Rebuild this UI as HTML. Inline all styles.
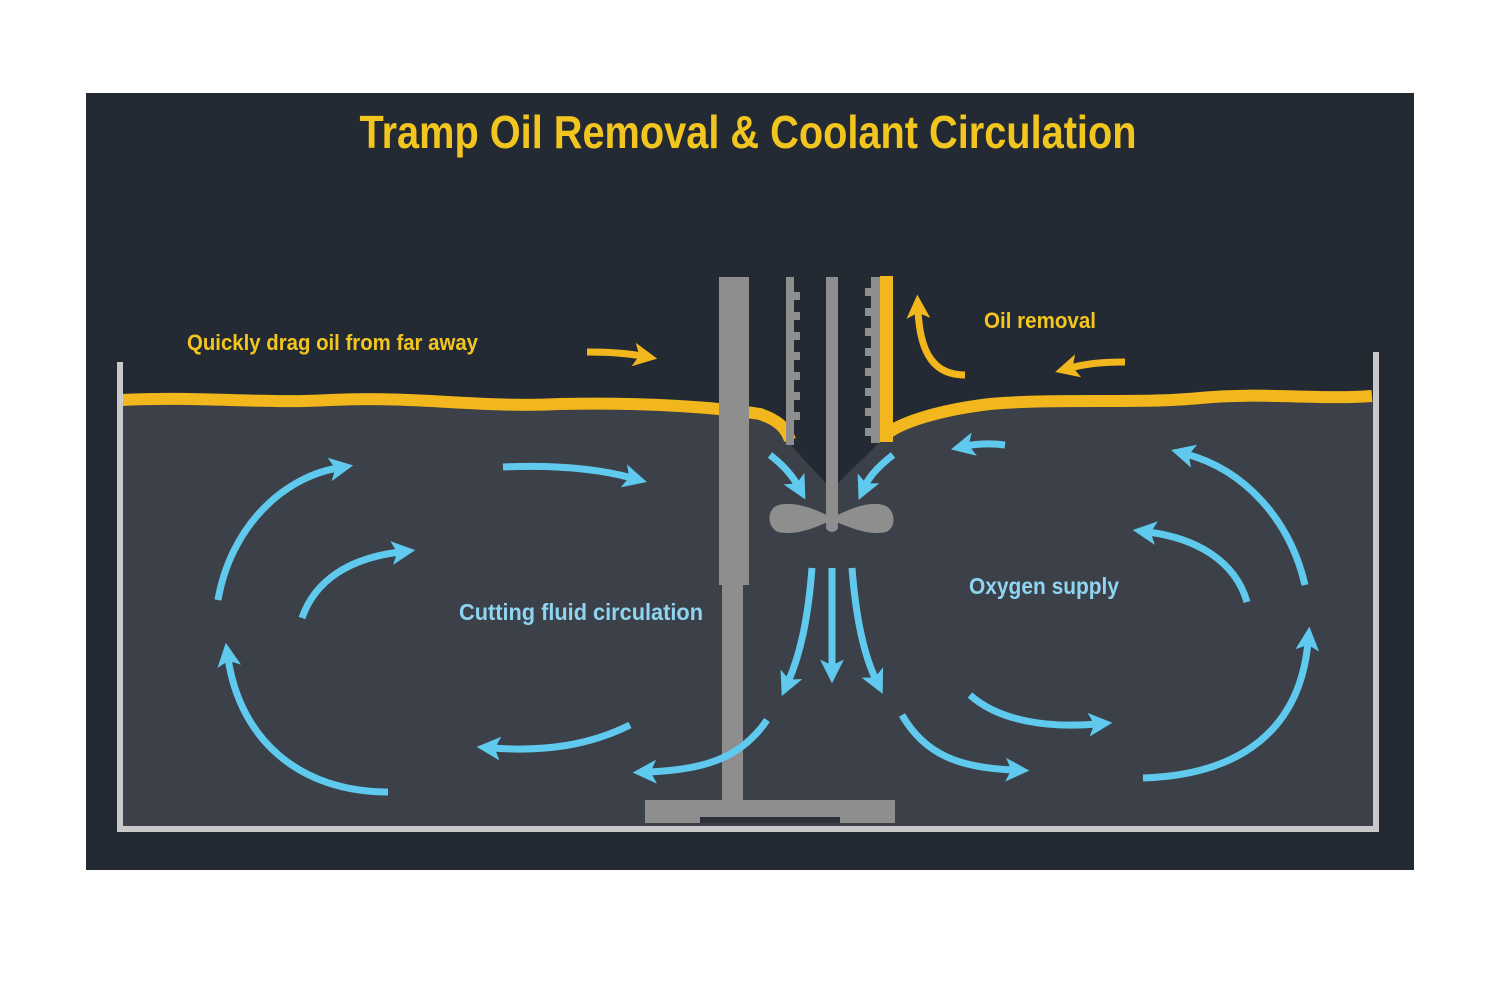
<!DOCTYPE html>
<html><head><meta charset="utf-8"><style>
html,body{margin:0;padding:0;background:#fff;}
svg{display:block;}
text{font-family:"Liberation Sans",sans-serif;font-weight:bold;}
</style></head><body>
<svg width="1500" height="1000" viewBox="0 0 1500 1000" xmlns="http://www.w3.org/2000/svg">
<defs>
<marker id="ab" markerWidth="3.4" markerHeight="3.4" refX="1.2" refY="1.7" orient="auto" markerUnits="strokeWidth">
<path d="M0,0 L3.4,1.7 L0,3.4 L0.8,1.7 Z" fill="#5fc9ee"/></marker>
<marker id="ay" markerWidth="3.4" markerHeight="3.4" refX="1.2" refY="1.7" orient="auto" markerUnits="strokeWidth">
<path d="M0,0 L3.4,1.7 L0,3.4 L0.8,1.7 Z" fill="#f2b71c"/></marker>
</defs>
<rect x="86" y="93" width="1328" height="777" fill="#242a33"/>
<path d="M122,406 C200,402 260,410 330,406 C420,402 480,414 560,410 C650,408 720,414 760,420 C780,428 788,438 792,446 C805,462 822,478 832,490 C842,478 860,462 876,446 C890,432 930,418 990,410 C1060,404 1140,410 1200,404 C1260,398 1320,406 1374,402 L1374,828 L122,828 Z" fill="#3c4149"/>
<path d="M122,400 C200,396 260,404 330,400 C420,396 480,408 560,404 C650,402 720,408 760,414 C778,420 786,428 790,440" fill="none" stroke="#f2b71c" stroke-width="12"/>
<path d="M884,436 C900,422 940,410 990,404 C1060,398 1140,404 1200,398 C1260,392 1320,400 1372,396" fill="none" stroke="#f2b71c" stroke-width="12"/>
<path d="M120,362 L120,829 L1376,829 L1376,352" fill="none" stroke="#c9c9c9" stroke-width="6"/>
<rect x="719" y="277" width="30" height="308" fill="#8e8e8e"/>
<rect x="722" y="585" width="21" height="220" fill="#8e8e8e"/>
<rect x="645" y="800" width="250" height="23" fill="#8e8e8e"/>
<rect x="700" y="817" width="140" height="6" fill="#2c3038"/>
<rect x="786" y="277" width="8" height="168" fill="#8e8e8e"/>
<g fill="#8e8e8e"><rect x="794" y="292" width="6" height="8"/><rect x="794" y="312" width="6" height="8"/><rect x="794" y="332" width="6" height="8"/><rect x="794" y="352" width="6" height="8"/><rect x="794" y="372" width="6" height="8"/><rect x="794" y="392" width="6" height="8"/><rect x="794" y="412" width="6" height="8"/></g>
<rect x="871" y="277" width="9" height="166" fill="#8e8e8e"/>
<g fill="#8e8e8e"><rect x="865" y="288" width="6" height="8"/><rect x="865" y="308" width="6" height="8"/><rect x="865" y="328" width="6" height="8"/><rect x="865" y="348" width="6" height="8"/><rect x="865" y="368" width="6" height="8"/><rect x="865" y="388" width="6" height="8"/><rect x="865" y="408" width="6" height="8"/><rect x="865" y="428" width="6" height="8"/></g>
<rect x="880" y="276" width="13" height="166" fill="#f2b71c"/>
<rect x="826" y="277" width="12" height="248" fill="#8e8e8e"/>
<path d="M832,518 C815,508 790,500 776,506 C766,512 768,528 778,532 C795,536 815,528 832,520 C850,528 870,536 886,532 C896,528 896,512 886,506 C872,500 850,508 832,518 Z" fill="#8e8e8e"/>
<ellipse cx="832" cy="527" rx="6" ry="5" fill="#8e8e8e"/>
<g fill="none" stroke="#5fc9ee" stroke-width="7" marker-end="url(#ab)">
<path d="M218,600 C230,530 280,478 338,468"/>
<path d="M302,618 C315,580 350,558 400,552"/>
<path d="M503,467 C550,465 595,468 632,478"/>
<path d="M388,792 C300,792 240,740 228,658"/>
<path d="M630,725 C590,745 545,752 492,748"/>
<path d="M767,720 C740,760 700,770 648,772"/>
<path d="M770,455 C783,465 792,475 798,486"/>
<path d="M893,455 C880,465 870,475 865,486"/>
<path d="M1005,445 C990,443 975,444 966,446"/>
<path d="M812,568 C808,620 800,655 788,682"/>
<path d="M832,568 L832,668"/>
<path d="M852,568 C856,620 864,655 876,680"/>
<path d="M902,715 C925,755 960,768 1014,770"/>
<path d="M970,695 C1000,722 1050,728 1097,724"/>
<path d="M1143,778 C1240,775 1300,730 1308,642"/>
<path d="M1305,585 C1290,520 1245,470 1186,454"/>
<path d="M1247,602 C1235,560 1195,538 1148,532"/>
</g>
<g fill="none" stroke="#f2b71c" stroke-width="7" marker-end="url(#ay)">
<path d="M587,352 C610,352 625,353 642,356"/>
<path d="M1125,362 C1100,362 1085,364 1070,368"/>
<path d="M965,375 C935,375 920,355 918,310"/>
</g>
<text x="748" y="148" text-anchor="middle" font-size="46" fill="#f2c51f" textLength="777" lengthAdjust="spacingAndGlyphs">Tramp Oil Removal &amp; Coolant Circulation</text>
<text x="187" y="350" font-size="22" fill="#f2c51f" textLength="291" lengthAdjust="spacingAndGlyphs">Quickly drag oil from far away</text>
<text x="984" y="328" font-size="22" fill="#f2c51f" textLength="112" lengthAdjust="spacingAndGlyphs">Oil removal</text>
<text x="459" y="620" font-size="23" fill="#8fd5f2" font-weight="normal" textLength="244" lengthAdjust="spacingAndGlyphs">Cutting fluid circulation</text>
<text x="969" y="594" font-size="23" fill="#8fd5f2" font-weight="normal" textLength="150" lengthAdjust="spacingAndGlyphs">Oxygen supply</text>
</svg>
</body></html>
